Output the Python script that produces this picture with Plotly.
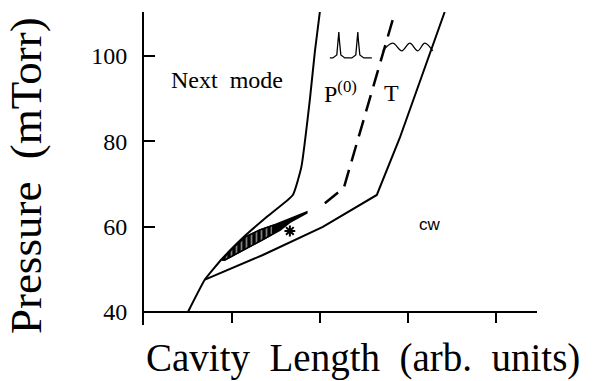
import plotly.graph_objects as go

# ---- data (arbitrary cavity-length units, pressure in mTorr) ----
next_mode_x = [0.50, 0.693, 0.886, 1.170, 1.409, 1.693, 1.790, 1.886, 1.943, 2.000]
next_mode_y = [40.0, 47.6, 52.42, 58.28, 62.50, 67.42, 74.0, 89.68, 100.93, 110.3]

cw_x = [0.693, 1.352, 2.034, 2.648, 2.909, 3.420]
cw_y = [47.6, 53.36, 59.92, 67.42, 80.78, 110.3]

dash_x = [2.057, 2.273, 2.852]
dash_y = [65.5, 69.1, 110.1]

tongue_up_x = [0.886, 1.034, 1.170, 1.318, 1.466, 1.659, 1.852]
tongue_up_y = [52.19, 55.40, 57.80, 59.20, 60.30, 61.85, 63.44]
tongue_lo_x = [1.852, 1.659, 1.545, 1.375, 1.205, 1.034, 0.920]
tongue_lo_y = [63.20, 61.00, 59.10, 57.20, 55.30, 53.40, 52.20]

hatch_x = [0.886, 1.034, 1.170, 1.318, 1.466, 1.466, 1.375, 1.205, 1.034, 0.920]
hatch_y = [52.19, 55.40, 57.80, 59.20, 60.30, 58.30, 57.20, 55.30, 53.40, 52.20]

star_x = [1.659]
star_y = [58.98]

# small inset glyphs (pulsed and CW-like output)
pulse_x = [2.114, 2.148, 2.193, 2.210, 2.216, 2.222, 2.239, 2.284,
           2.364, 2.409, 2.426, 2.432, 2.438, 2.455, 2.500, 2.591]
pulse_y = [99.53, 99.53, 100.23, 103.75, 105.62, 103.75, 100.23, 99.53,
           99.53, 100.23, 103.75, 105.62, 103.75, 100.23, 99.53, 99.53]
wave_x = [2.716, 2.830, 2.932, 3.023, 3.114, 3.193, 3.284]
wave_y = [101.2, 103.0, 101.2, 103.0, 101.2, 103.0, 101.2]

y_ticks = [40, 60, 80, 100]
y_ticklabels = ["40", "60", "80", "100"]
x_ticks = [1, 2, 3, 4]

X_RANGE = [0, 4.47]
Y_RANGE = [36.95, 110.3]

serif = "Liberation Serif"
sans = "Liberation Sans"

fig = go.Figure()

line_style = dict(color="black", width=2)

fig.add_trace(go.Scatter(x=next_mode_x, y=next_mode_y, mode="lines",
                         line=dict(color="black", width=2, shape="spline", smoothing=0.4),
                         hoverinfo="skip", showlegend=False))
fig.add_trace(go.Scatter(x=cw_x, y=cw_y, mode="lines",
                         line=line_style, hoverinfo="skip", showlegend=False))
fig.add_trace(go.Scatter(x=dash_x, y=dash_y, mode="lines",
                         line=dict(color="black", width=2.5, dash="17px,9px"),
                         hoverinfo="skip", showlegend=False))

# tongue: solid black sliver
fig.add_trace(go.Scatter(x=tongue_up_x + tongue_lo_x + [tongue_up_x[0]],
                         y=tongue_up_y + tongue_lo_y + [tongue_up_y[0]],
                         mode="lines", fill="toself", fillcolor="black",
                         line=dict(color="black", width=1.5),
                         hoverinfo="skip", showlegend=False))
# hatched left part of the tongue
fig.add_trace(go.Scatter(x=hatch_x + [hatch_x[0]], y=hatch_y + [hatch_y[0]],
                         mode="lines", fill="toself",
                         fillpattern=dict(shape="|", size=5, solidity=0.35,
                                          fgcolor="white", bgcolor="black"),
                         line=dict(color="black", width=1.5),
                         hoverinfo="skip", showlegend=False))

fig.add_trace(go.Scatter(x=star_x, y=star_y, mode="markers",
                         marker=dict(symbol="asterisk-open", size=9, color="black",
                                     line=dict(color="black", width=2)),
                         hoverinfo="skip", showlegend=False))

fig.add_trace(go.Scatter(x=pulse_x, y=pulse_y, mode="lines",
                         line=dict(color="black", width=1.3),
                         hoverinfo="skip", showlegend=False))
fig.add_trace(go.Scatter(x=wave_x, y=wave_y, mode="lines",
                         line=dict(color="black", width=1.3, shape="spline"),
                         hoverinfo="skip", showlegend=False))

annos = [
    dict(x=0.949, y=94.4, xref="x", yref="y", text="Next  mode",
         xanchor="center", yanchor="middle",
         font=dict(family=serif, size=24, color="black"), showarrow=False),
    dict(x=2.023, y=91.6, xref="x", yref="y", text="P<sup>(0)</sup>",
         xanchor="left", yanchor="middle",
         font=dict(family=serif, size=24, color="black"), showarrow=False),
    dict(x=2.813, y=91.3, xref="x", yref="y", text="T",
         xanchor="center", yanchor="middle",
         font=dict(family=serif, size=24, color="black"), showarrow=False),
    dict(x=3.25, y=60.4, xref="x", yref="y", text="cw",
         xanchor="center", yanchor="middle",
         font=dict(family=sans, size=17, color="black"), showarrow=False),
    dict(x=0.557, y=-0.104, xref="paper", yref="paper", text="Cavity  Length  (arb.  units)",
         xanchor="center", yanchor="middle",
         font=dict(family=serif, size=39, color="black"), showarrow=False),
    dict(x=-0.300, y=0.476, xref="paper", yref="paper", text="Pressure  (mTorr)",
         xanchor="center", yanchor="middle", textangle=-90,
         font=dict(family=serif, size=45, color="black"), showarrow=False),
]

x_pos = (40 - Y_RANGE[0]) / (Y_RANGE[1] - Y_RANGE[0])

fig.update_layout(
    width=598, height=381,
    margin=dict(l=144, r=61, t=12, b=56),
    paper_bgcolor="white", plot_bgcolor="white",
    annotations=annos,
    xaxis=dict(range=X_RANGE, anchor="free", position=x_pos,
               showline=True, linewidth=2, linecolor="black",
               ticks="outside", tickvals=x_ticks, ticklen=10, tickwidth=2,
               tickcolor="black", showticklabels=False,
               showgrid=False, zeroline=False, fixedrange=True),
    yaxis=dict(range=Y_RANGE, showline=True, linewidth=2, linecolor="black",
               ticks="inside", tickvals=y_ticks, ticktext=y_ticklabels,
               ticklen=11, tickwidth=2, tickcolor="black",
               tickfont=dict(family=serif, size=24, color="black"),
               ticklabelstandoff=10,
               showgrid=False, zeroline=False, fixedrange=True),
)

fig.write_html("out.html")
